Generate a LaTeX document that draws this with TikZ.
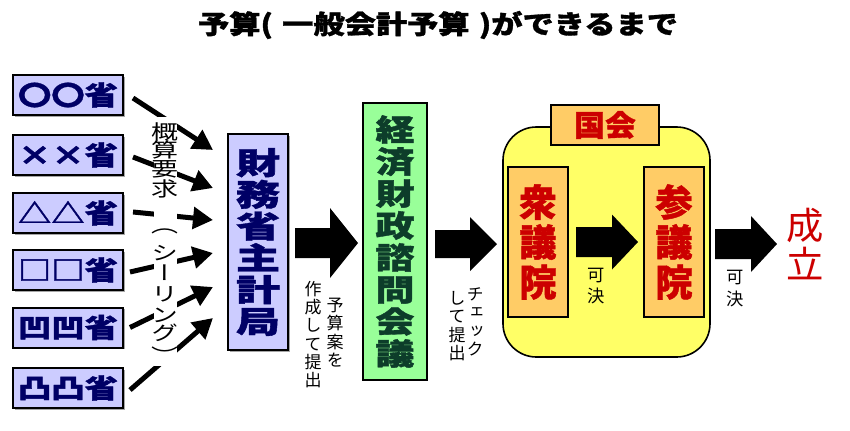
\documentclass[tikz,border=0pt]{standalone}
\usepackage{fontspec}
\usepackage{graphicx}
\newfontfamily\jp{Noto Sans CJK JP}
\newfontfamily\jpb{Noto Sans CJK JP}[BoldFeatures={FakeBold=1.2}]
\newfontfamily\jpv{Noto Sans CJK JP}[RawFeature=+vert]
\usetikzlibrary{arrows.meta,shadows}
\definecolor{lav}{HTML}{CCCCFF}
\definecolor{navy}{HTML}{000066}
\definecolor{lgreen}{HTML}{99FF99}
\definecolor{dgreen}{HTML}{0D3D2A}
\definecolor{orng}{HTML}{FFCC66}
\definecolor{dred}{HTML}{CC0000}
\definecolor{yel}{HTML}{FFFF66}
\newcommand\vstk[2]{\scalebox{#1}[1]{\vbox{\lineskiplimit=-\maxdimen\let\\\cr\halign{\hfil##\hfil\cr#2\crcr}}}}
\newcommand\hstr[2]{\scalebox{#1}[1]{#2}}
\newcommand\blkarrow[6]{\fill (#1,{#4-#5}) -- (#3,{#4-#5}) -- (#3,{#4-#6}) -- (#2,#4) -- (#3,{#4+#6}) -- (#3,{#4+#5}) -- (#1,{#4+#5}) -- cycle;}
\begin{document}
\begin{tikzpicture}[x=0.75pt,y=-0.75pt,
  box/.style={draw=black,line width=1.5pt,inner sep=0pt,outer sep=0pt},
  minbox/.style={box,fill=lav,text=navy,minimum width=82.5pt,minimum height=30pt,
    font=\jpb\bfseries\fontsize{20}{22}\selectfont,
    drop shadow={shadow xshift=1.2pt,shadow yshift=-1.2pt,fill=black!35,opacity=1}},
  zaibox/.style={box,fill=lav,text=navy,minimum width=45pt,minimum height=162pt,
    font=\jpb\bfseries\fontsize{23}{23.8}\selectfont,
    drop shadow={shadow xshift=1.2pt,shadow yshift=-1.2pt,fill=black!35,opacity=1}},
  keibox/.style={box,fill=lgreen,text=dgreen,minimum width=48pt,minimum height=207.75pt,
    font=\jpb\bfseries\fontsize{22.5}{24}\selectfont},
  kokbox/.style={box,fill=orng,text=dred,minimum width=81pt,minimum height=30pt,
    font=\jpb\bfseries\fontsize{22}{24}\selectfont},
  inbox/.style={box,fill=orng,text=dred,minimum width=45pt,minimum height=112.5pt,
    font=\jpb\bfseries\fontsize{28}{30}\selectfont},
  lbl/.style={inner sep=0pt,font=\jpv\fontsize{12.75}{13.75}\selectfont},
  kalbl/.style={inner sep=0pt,font=\jpv\fontsize{15}{15}\selectfont},
  sarrow/.style={line width=3.75pt,-{Triangle[length=15pt,width=16pt]}},
]
\useasboundingbox (0,0) rectangle (850,430);

% title
\node[inner sep=0pt,font=\jpb\bfseries\fontsize{19.5}{22}\selectfont] (title) at (438,25)
  {\hstr{1.2}{予算(\hspace{0.3em}一般会計予算\hspace{0.3em})ができるまで}};

% ministries
\node[minbox] (m1) at (68,95)   {\hstr{1.25}{〇〇省}};
\node[minbox] (m2) at (68,155)  {\hstr{1.25}{××省}};
\node[minbox] (m3) at (68,213)  {\hstr{1.25}{△△省}};
\node[minbox] (m4) at (68,270)  {\hstr{1.25}{□□省}};
\node[minbox] (m5) at (68,327.5){\hstr{1.25}{凹凹省}};
\node[minbox] (m6) at (68,388)  {\hstr{1.25}{凸凸省}};

% budget bureau
\node[zaibox] (fz) at (258,242) {\vstk{1.44}{財\\務\\省\\主\\計\\局}};

% council
\node[keibox] (kz) at (395,241.5) {\vstk{1.3}{経\\済\\財\\政\\諮\\問\\会\\議}};

% diet
\node[draw=black,line width=1.2pt,fill=yel,rounded corners=25pt,
  minimum width=155.25pt,minimum height=172.5pt,inner sep=0pt] (diet) at (606.5,242) {};
\node[kokbox] (kok) at (605,125) {\hstr{1.05}{国会}};
\node[inbox] (shu) at (538,242) {\vstk{1}{衆\\議\\院}};
\node[inbox] (san) at (674,242) {\vstk{1}{参\\議\\院}};

% seiritsu
\node[inner sep=0pt,text=dred,font=\jp\fontsize{28}{29.25}\selectfont] (sei) at (805,244.5)
  {\vstk{1}{成\\立}};

% diagonal arrows
\coordinate (e1) at ([shift={(-15,-92)}]fz.west);
\coordinate (e2) at ([shift={(-15,-54)}]fz.west);
\coordinate (e3) at ([shift={(-15,-22)}]fz.west);
\coordinate (e4) at ([shift={(-15,11)}]fz.west);
\coordinate (e5) at ([shift={(-15,45)}]fz.west);
\coordinate (e6) at ([shift={(-15,76)}]fz.west);
\draw[sarrow] ([shift={(10,3)}]m1.east) -- (e1);
\draw[sarrow] ([shift={(10,2)}]m2.east) -- (e2);
\draw[sarrow] ([shift={(10,-1)}]m3.east) -- (e3);
\draw[sarrow] ([shift={(7,2)}]m4.east) -- (e4);
\draw[sarrow] ([shift={(7,0)}]m5.east) -- (e5);
\draw[sarrow] ([shift={(7,2)}]m6.east) -- (e6);

% vertical label over arrows
\fill[white] (154,117) rectangle (177,366);
\foreach \c/\y [count=\i] in {概/132,算/150,要/169,求/189,（/231,シ/253,ー/273,リ/294,ン/315,グ/333,）/355}
  \node[kalbl] (ga\i) at (165,\y) {\hstr{1.35}{\c}};

% block arrows
\blkarrow{295}{358}{330}{243}{15}{35}
\blkarrow{435}{497}{470}{244}{14}{27}
\blkarrow{576}{638}{612}{242}{15}{27.5}
\blkarrow{715}{777}{751}{244}{15}{28}

% labels under arrows
\node[lbl] (la1) at (313,334.5) {\vstk{1}{作\\成\\し\\て\\提\\出}};
\node[lbl] (la2) at (335,332.5) {\vstk{1}{予\\算\\案\\を}};
\node[lbl] (lb1) at (457,326) {\vstk{1}{し\\て\\提\\出}};
\node[lbl] (lb2) at (475,322) {\vstk{1}{チ\\ェ\\ッ\\ク}};
\node[lbl,font=\jpv\fontsize{13}{15.75}\selectfont] (lc) at (596,286.5) {\vstk{1}{可\\決}};
\node[lbl,font=\jpv\fontsize{13}{16.5}\selectfont] (ld) at (735,289) {\vstk{1}{可\\決}};
\end{tikzpicture}
\end{document}
